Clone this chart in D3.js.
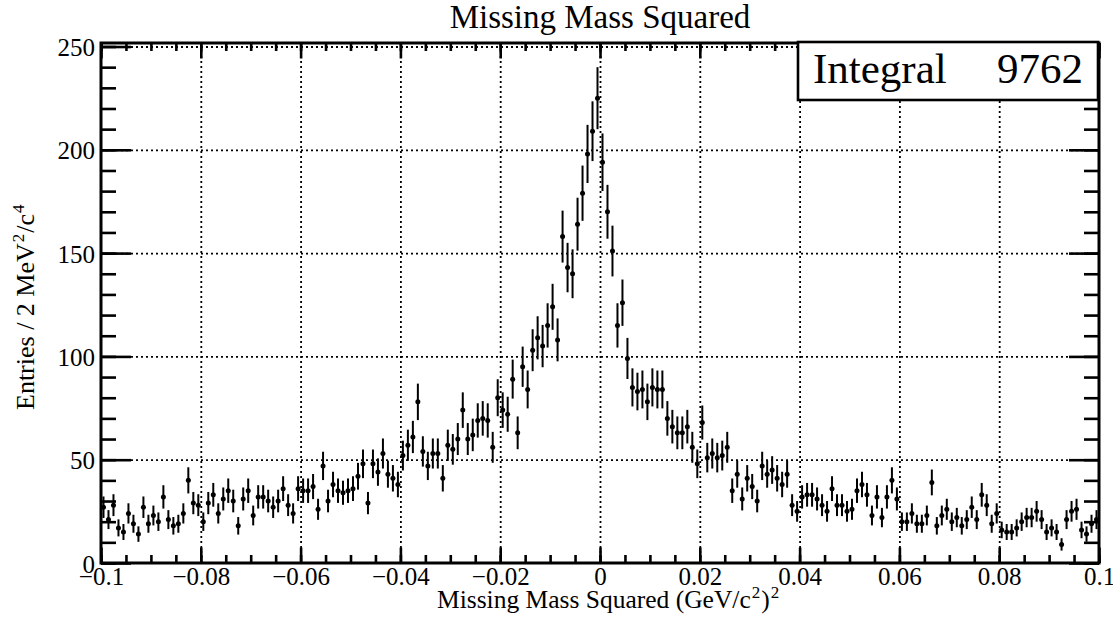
<!DOCTYPE html>
<html>
<head>
<meta charset="utf-8">
<script src="https://cdn.jsdelivr.net/npm/d3@7"></script>
<style>
  html, body { margin: 0; padding: 0; background: #fff; }
  svg { display: block; font-family: "Liberation Serif", "Times New Roman", serif; }
</style>
</head>
<body>
<svg id="chart" width="1113" height="617"></svg>
<script>
// ---- data ----
const xMin = -0.1, xMax = 0.1, binWidth = 0.001;
const counts = [
  27,21,28,17,15,24,19,14,27,19,23,20,32,21,18,19,24,40,29,28,20,29,33,24,31,35,30,18,31,35,23,32,32,30,
  27,30,36,28,24,36,35,35,37,26,47,30,38,35,34,35,36,42,48,29,48,44,53,43,41,38,52,57,61,78,54,47,53,53,
  41,57,55,60,74,60,62,69,70,69,56,80,74,72,89,63,95,84,103,109,105,115,124,108,
  158,143,140,164,179,198,209,225,194,170,151,115,126,99,85,83,84,
  78,85,84,84,70,66,63,63,66,56,48,68,51,53,51,52,56,35,43,31,41,37,30,47,43,
  45,41,38,43,28,25,32,33,33,31,28,25,36,28,28,25,26,35,38,33,23,32,22,32,40,31,20,20,24,19,19,23,39,
  18,23,26,20,22,18,21,27,21,33,28,19,24,16,15,15,17,20,22,22,25,21,15,17,15,9,21,25,26,16,14,19,21
];
const xTickValues = [-0.1,-0.08,-0.06,-0.04,-0.02,0,0.02,0.04,0.06,0.08,0.1];
const xTickLabels = ["\u22120.1","\u22120.08","\u22120.06","\u22120.04","\u22120.02","0","0.02","0.04","0.06","0.08","0.1"];
const xMinorValues = d3.range(-100, 101, 5).map(v => v / 1000);
const yTickValues = [0,50,100,150,200,250];
const yTickLabels = ["0","50","100","150","200","250"];
const yMinorValues = d3.range(0, 251, 10);
const integralValue = 9762;

// ---- layout ----
const svg = d3.select("#chart");
const L = 101, R = 1099, T = 43, B = 563;
const x = d3.scaleLinear().domain([xMin, xMax]).range([L, R]);
const y = d3.scaleLinear().domain([0, 251.7]).range([B, T]);

// grid
const gridStyle = g => g.selectAll("line")
  .attr("stroke", "#000").attr("stroke-width", 1.8).attr("stroke-dasharray", "2 3");
const gx = svg.append("g").attr("transform", `translate(0,${B})`)
  .call(d3.axisBottom(x).tickValues(xTickValues.slice(1, -1)).tickSize(-(B - T)).tickFormat(""));
gx.select(".domain").remove(); gridStyle(gx);
const gy = svg.append("g").attr("transform", `translate(${L},0)`)
  .call(d3.axisLeft(y).tickValues(yTickValues.slice(1)).tickSize(-(R - L)).tickFormat(""));
gy.select(".domain").remove(); gridStyle(gy);

// data: error bars + markers
const pts = counts.map((c, i) => ({ x: xMin + (i + 0.5) * binWidth, v: c, e: Math.sqrt(c) }));
svg.append("g").selectAll("line").data(pts).join("line")
  .attr("x1", d => x(d.x)).attr("x2", d => x(d.x))
  .attr("y1", d => y(Math.max(0, d.v - d.e))).attr("y2", d => y(d.v + d.e))
  .attr("stroke", "#000").attr("stroke-width", 2);
svg.append("g").selectAll("circle").data(pts).join("circle")
  .attr("cx", d => x(d.x)).attr("cy", d => y(d.v)).attr("r", 2.5).attr("fill", "#000");

// axes ticks
const tickStyle = (g, w) => { g.select(".domain").remove(); g.selectAll("line").attr("stroke", "#000").attr("stroke-width", w); };
const fmtX = d => xTickLabels[xTickValues.findIndex(v => Math.abs(v - d) < 1e-9)];
const fmtY = d => yTickLabels[yTickValues.indexOf(d)];

const xb = svg.append("g").attr("transform", `translate(0,${B})`)
  .call(d3.axisBottom(x).tickValues(xTickValues).tickSize(-15.5).tickPadding(4).tickFormat(fmtX));
tickStyle(xb, 2.6);
xb.selectAll("text").attr("font-size", 25).attr("fill", "#000").attr("font-family", "Liberation Serif");
const xbm = svg.append("g").attr("transform", `translate(0,${B})`)
  .call(d3.axisBottom(x).tickValues(xMinorValues).tickSize(-8).tickFormat(""));
tickStyle(xbm, 2.6);
const xt = svg.append("g").attr("transform", `translate(0,${T})`)
  .call(d3.axisTop(x).tickValues(xTickValues).tickSize(-15.5).tickFormat(""));
tickStyle(xt, 2.6);
const xtm = svg.append("g").attr("transform", `translate(0,${T})`)
  .call(d3.axisTop(x).tickValues(xMinorValues).tickSize(-8).tickFormat(""));
tickStyle(xtm, 2.6);

const yl = svg.append("g").attr("transform", `translate(${L},0)`)
  .call(d3.axisLeft(y).tickValues(yTickValues).tickSize(-30).tickPadding(6).tickFormat(fmtY));
tickStyle(yl, 2.6);
yl.selectAll("text").attr("font-size", 25).attr("fill", "#000").attr("font-family", "Liberation Serif").attr("dy", "0.36em");
const ylm = svg.append("g").attr("transform", `translate(${L},0)`)
  .call(d3.axisLeft(y).tickValues(yMinorValues).tickSize(-15).tickFormat(""));
tickStyle(ylm, 2.6);
const yr = svg.append("g").attr("transform", `translate(${R},0)`)
  .call(d3.axisRight(y).tickValues(yTickValues).tickSize(-30).tickFormat(""));
tickStyle(yr, 2.6);
const yrm = svg.append("g").attr("transform", `translate(${R},0)`)
  .call(d3.axisRight(y).tickValues(yMinorValues).tickSize(-15).tickFormat(""));
tickStyle(yrm, 2.6);

// frame
svg.append("rect").attr("x", L).attr("y", T).attr("width", R - L).attr("height", B - T)
  .attr("fill", "none").attr("stroke", "#000").attr("stroke-width", 3);

// title
svg.append("text").attr("x", 600).attr("y", 28).attr("text-anchor", "middle")
  .attr("font-size", 33).attr("fill", "#000").text("Missing Mass Squared");

// x axis title
const xtTitle = svg.append("text").attr("x", 437).attr("y", 608).attr("font-size", 25.5).attr("fill", "#000");
xtTitle.append("tspan").text("Missing Mass Squared (GeV/c");
xtTitle.append("tspan").attr("font-size", 17).attr("dy", -10).attr("dx", 1).text("2");
xtTitle.append("tspan").attr("dy", 10).attr("dx", 1).text(")");
xtTitle.append("tspan").attr("font-size", 17).attr("dy", -10).attr("dx", 1).text("2");

// y axis title
const ytTitle = svg.append("text").attr("transform", "translate(34,410) rotate(-90)")
  .attr("text-anchor", "start").attr("font-size", 26).attr("fill", "#000");
ytTitle.append("tspan").text("Entries / 2 MeV");
ytTitle.append("tspan").attr("font-size", 17).attr("dy", -10).attr("dx", 1).text("2");
ytTitle.append("tspan").attr("dy", 10).attr("dx", 1).text("/c");
ytTitle.append("tspan").attr("font-size", 17).attr("dy", -10).attr("dx", 1).text("4");

// stats box
svg.append("rect").attr("x", 798).attr("y", 42).attr("width", 300).attr("height", 58)
  .attr("fill", "#fff").attr("stroke", "#000").attr("stroke-width", 2.6);
svg.append("text").attr("x", 813).attr("y", 83).attr("font-size", 43).attr("fill", "#000").text("Integral");
svg.append("text").attr("x", 1083).attr("y", 83).attr("text-anchor", "end").attr("font-size", 43).attr("fill", "#000").text(String(integralValue));
</script>
</body>
</html>
